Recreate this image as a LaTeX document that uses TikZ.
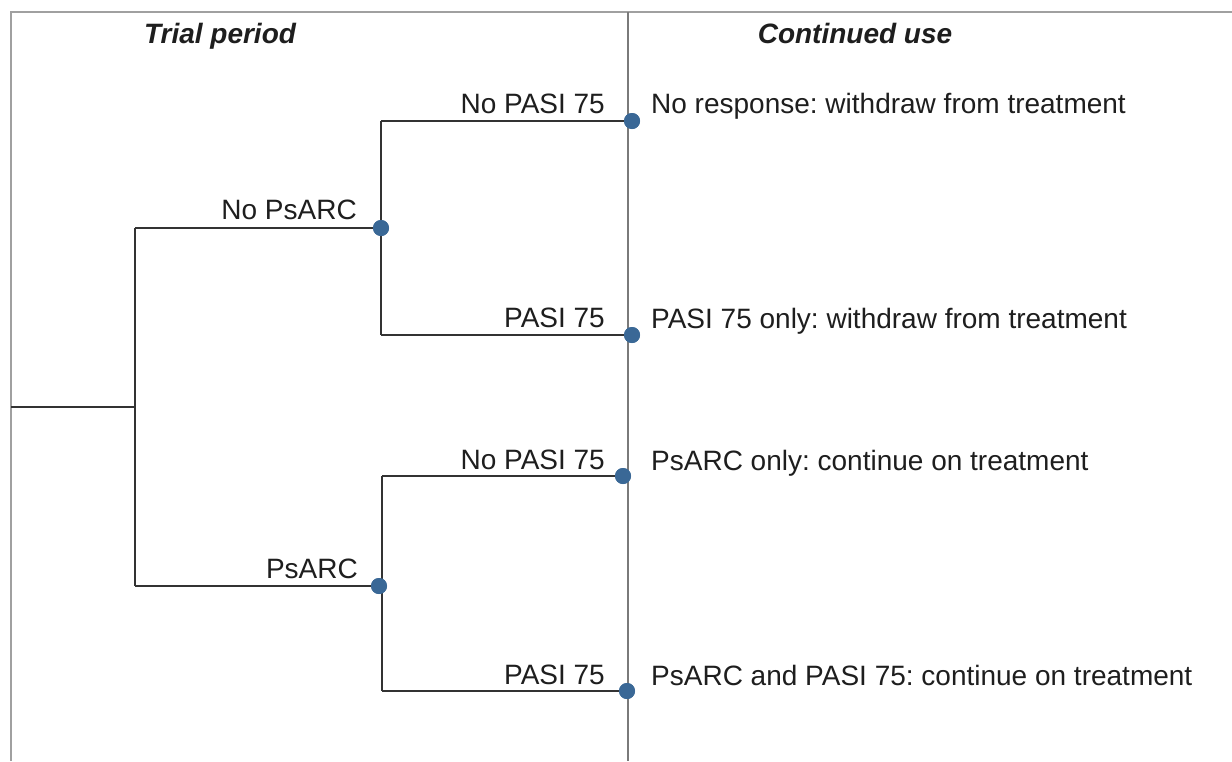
\documentclass[tikz,border=0pt]{standalone}
\usepackage{fontspec}
\setmainfont{Liberation Sans}
\frenchspacing
\definecolor{linec}{HTML}{333333}
\definecolor{framec}{HTML}{A0A0A0}
\definecolor{dividec}{HTML}{7A7A7A}
\definecolor{dotc}{HTML}{3A6896}
\definecolor{textc}{HTML}{1E1E1E}
\begin{document}
\begin{tikzpicture}[x=1pt,y=-1pt,
  branch/.style={draw=linec,line width=2.2pt},
  dotnode/.style={circle,fill=dotc,inner sep=0pt,minimum size=16pt},
  lbl/.style={anchor=base east,inner sep=0pt,text=textc,font=\fontsize{28}{32}\selectfont},
  outc/.style={anchor=base west,inner sep=0pt,text=textc,font=\fontsize{28}{32}\selectfont},
  head/.style={anchor=base,inner sep=0pt,text=textc,font=\fontsize{28}{32}\selectfont\bfseries\itshape}]
\useasboundingbox (0,0) rectangle (1232,761);
\fill[white] (0,0) rectangle (1232,761);
% frame
\coordinate (fbl) at (11,761);
\coordinate (ftl) at (11,12);
\coordinate (ftr) at (1232,12);
\draw[framec,line width=2.2pt] (fbl) -- (ftl) -- (ftr);
% divider
\coordinate (dtop) at (628,12);
\coordinate (dbot) at (628,761);
\draw[dividec,line width=2.2pt] (dtop) -- (dbot);
% headers
\node[head] (h1) at (220,43) {Trial period};
\node[head] (h2) at (855,43) {Continued use};
% tree coordinates
\coordinate (root) at (11,407);
\coordinate (j0) at (135,407);
\coordinate (j0t) at (135,228);
\coordinate (j0b) at (135,586);
\coordinate (j1t) at (381,121);
\coordinate (j1b) at (381,335);
\coordinate (j2t) at (382,476);
\coordinate (j2b) at (382,691);
% branches
\draw[branch] (root) -- (j0);
\draw[branch] (j0t) -- (j0b);
\draw[branch] (j1t) -- (j1b);
\draw[branch] (j2t) -- (j2b);
\node[dotnode] (d1) at (381,228) {};
\node[dotnode] (d2) at (379,586) {};
\node[dotnode] (e1) at (632,121) {};
\node[dotnode] (e2) at (632,335) {};
\node[dotnode] (e3) at (623,476) {};
\node[dotnode] (e4) at (627,691) {};
\draw[branch] (j0t) -- (d1.center);
\draw[branch] (j0b) -- (d2.center);
\draw[branch] (j1t) -- (e1.center);
\draw[branch] (j1b) -- (e2.center);
\draw[branch] (j2t) -- (e3.center);
\draw[branch] (j2b) -- (e4.center);
% redraw dots on top
\foreach \n in {d1,d2,e1,e2,e3,e4} \fill[dotc] (\n.center) circle (8pt);
% labels
\node[lbl] (l1) at (605,113) {No PASI 75};
\node[lbl] (l2) at (357,219) {No PsARC};
\node[lbl] (l3) at (605,327) {PASI 75};
\node[lbl] (l4) at (605,469) {No PASI 75};
\node[lbl] (l5) at (358,578) {PsARC};
\node[lbl] (l6) at (605,684) {PASI 75};
% outcomes
\node[outc] (o1) at (651,113) {No response: withdraw from treatment};
\node[outc] (o2) at (651,328) {PASI 75 only: withdraw from treatment};
\node[outc] (o3) at (651,470) {PsARC only: continue on treatment};
\node[outc] (o4) at (651,685) {PsARC and PASI 75: continue on treatment};
\end{tikzpicture}
\end{document}
